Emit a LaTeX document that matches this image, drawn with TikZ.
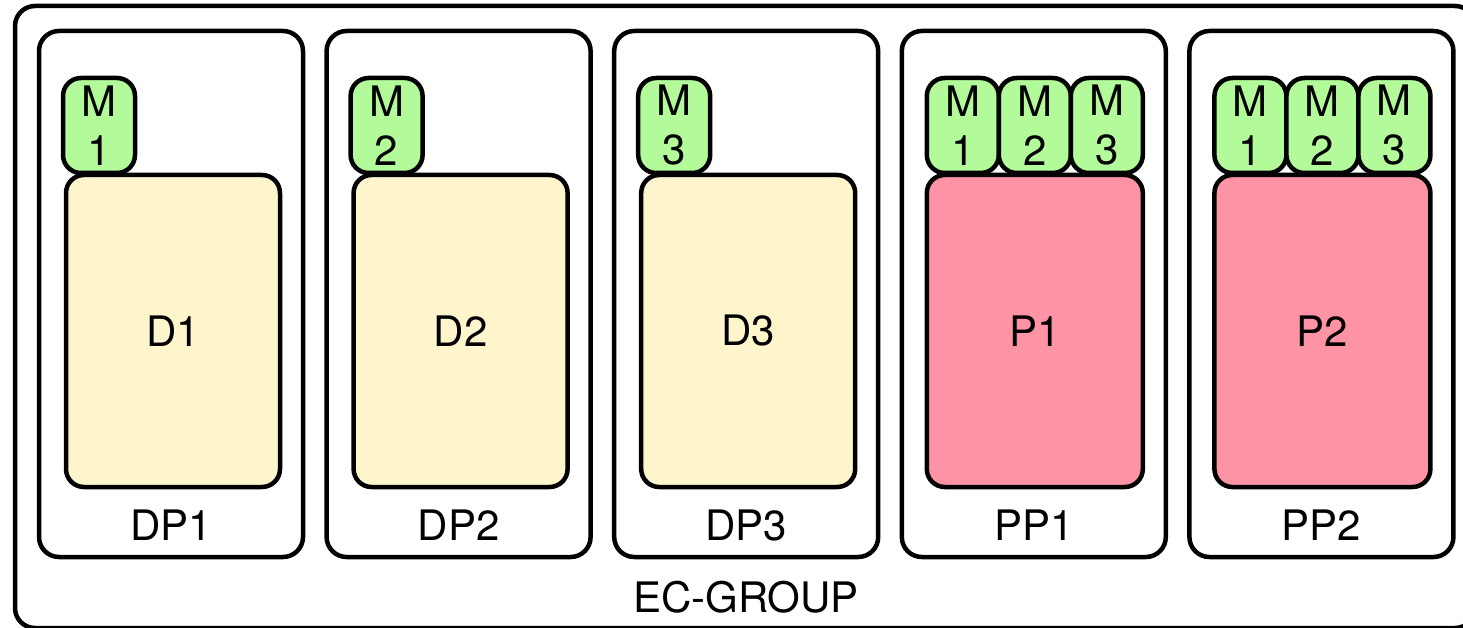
\documentclass[tikz,border=0pt]{standalone}
\usepackage{fontspec}
\setmainfont{TeX Gyre Heros}
\definecolor{mgreen}{HTML}{B2FA9A}
\definecolor{dyellow}{HTML}{FFF5CC}
\definecolor{ppink}{HTML}{FF93A6}
\newcommand\lblfont{\fontsize{42}{49}\selectfont}
\begin{document}
\begin{tikzpicture}[x=1pt,y=-1pt,
  box/.style={draw, line width=4.5pt, rounded corners=20pt, inner sep=0pt, font=\lblfont},
  panel/.style={box, fill=white, minimum width=264pt, minimum height=526pt},
  mbox/.style={box, fill=mgreen, minimum width=72pt, minimum height=95pt, rounded corners=18pt, align=center},
  dbox/.style={box, fill=dyellow, minimum width=214pt, minimum height=312pt, rounded corners=18pt},
  pbox/.style={box, fill=ppink, minimum width=216pt, minimum height=312pt, rounded corners=18pt},
  lbl/.style={anchor=base, inner sep=0pt, font=\lblfont}]
\useasboundingbox (0,0) rectangle (1463,628);
\clip (0,0) rectangle (1463,628);
\node[box, fill=white, minimum width=1460pt, minimum height=622pt] (ec) at (745,317) {};
\node[lbl] (eclabel) at (746,612) {EC-GROUP};
\foreach \n/\x in {1/171, 2/458.6, 3/746.2} {
  \node[panel] (DP\n) at (\x,294) {};
  \node[lbl] (DP\n-label) at (\x,540) {DP\n};
  \node[mbox] (DM\n) at (\x-72,125.5) {M\\\n};
  \node[dbox] (D\n) at (\x+2,331) {D\n};
}
\foreach \n/\x in {1/1033.8, 2/1321.4} {
  \node[panel] (PP\n) at (\x,294) {};
  \node[lbl] (PP\n-label) at (\x,540) {PP\n};
  \node[mbox] (P\n-M1) at (\x-71,125.5) {M\\1};
  \node[mbox] (P\n-M2) at (\x+1,125.5) {M\\2};
  \node[mbox] (P\n-M3) at (\x+73,125.5) {M\\3};
  \node[pbox] (P\n) at (\x+1,331) {P\n};
}
\end{tikzpicture}
\end{document}
